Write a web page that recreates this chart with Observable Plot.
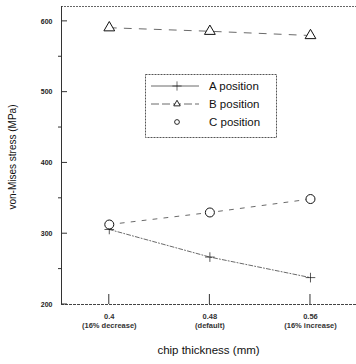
<!DOCTYPE html>
<html>
<head>
<meta charset="utf-8">
<script src="https://cdn.jsdelivr.net/npm/d3@7"></script>
<script src="https://cdn.jsdelivr.net/npm/@observablehq/plot@0.6"></script>
<style>
  html, body { margin: 0; padding: 0; background: #fff; }
  #wrap { position: relative; width: 356px; height: 364px; font-family: Arial, "Liberation Sans", sans-serif; }
  #legend { position: absolute; left: 145px; top: 74px; }
</style>
</head>
<body>
<div id="wrap"><div id="chart"></div><div id="legend"></div></div>
<script>
const thickness = [0.4, 0.48, 0.56];
const tickLabels = ["0.4\n(16% decrease)", "0.48\n(default)", "0.56\n(16% increase)"];
const seriesNames = ["A position", "B position", "C position"];
const stressA = [306, 267, 238];
const stressB = [591, 586, 580];
const stressC = [313, 330, 349];
const yMajor = [200, 300, 400, 500, 600];
const yMinor = [250, 350, 450, 550];

const symbols = ["plus", "triangle", "circle"];
const dashes = ["4,2,1,2", "7,8", "4,7"];
const radii = [3.2, 4, 4.5];
const values = [stressA, stressB, stressC];

const rows = [];
values.forEach((vals, s) => vals.forEach((v, i) => rows.push({series: seriesNames[s], x: thickness[i], y: v, s})));

const font = "Arial, 'Liberation Sans', sans-serif";
const marks = [
  Plot.ruleY([621], {stroke: "#666", strokeWidth: 1, strokeDasharray: "2,1"}),
  Plot.ruleY([200], {stroke: "#444", strokeWidth: 1, strokeDasharray: "3,1"}),
  Plot.ruleX([0.362], {stroke: "#333", strokeWidth: 1}),
  Plot.axisY({ticks: yMajor, tickSize: 0, tickPadding: 9, fontSize: 7, fontWeight: "bold", fill: "#222", label: null}),
  Plot.axisX({ticks: thickness, tickSize: 0, tickPadding: 8, tickFormat: (d, i) => tickLabels[i], fontSize: 7.5, fontWeight: "bold", fill: "#333", label: null, lineHeight: 1.2})
];
seriesNames.forEach((name, s) => {
  const data = rows.filter(r => r.s === s);
  marks.push(Plot.line(data, {x: "x", y: "y", stroke: "#444", strokeWidth: 0.8, strokeDasharray: dashes[s]}));
  marks.push(Plot.dot(data, {x: "x", y: "y", symbol: () => symbols[s], r: radii[s], stroke: "#111", fill: s === 0 ? "none" : "white", strokeWidth: s === 0 ? 0.7 : 1}));
});

const chart = Plot.plot({
  width: 356,
  height: 364,
  marginLeft: 61,
  marginRight: 0,
  marginTop: 6,
  marginBottom: 60,
  style: {fontFamily: font, background: "white"},
  x: {domain: [0.362, 0.5966], axis: null},
  y: {domain: [200, 621], axis: null},
  marks
});
document.getElementById("chart").appendChild(chart);

// custom ticks: major inside, minor outside (positions from the plot's scales)
const svg = d3.select(chart);
const xs = chart.scale("x"), ys = chart.scale("y");
const gT = svg.append("g").attr("stroke", "#333").attr("stroke-width", 1);
yMajor.forEach(v => gT.append("line").attr("x1", xs.apply(0.362)).attr("x2", xs.apply(0.362) + 6).attr("y1", ys.apply(v)).attr("y2", ys.apply(v)));
yMinor.forEach(v => gT.append("line").attr("x1", xs.apply(0.362) - 3).attr("x2", xs.apply(0.362)).attr("y1", ys.apply(v)).attr("y2", ys.apply(v)));
thickness.forEach(v => gT.append("line").attr("x1", xs.apply(v)).attr("x2", xs.apply(v)).attr("y1", ys.apply(200)).attr("y2", ys.apply(200) - 10));

// axis titles
svg.append("text").attr("transform", `translate(16,${(ys.apply(200) + ys.apply(621)) / 2 + 2}) rotate(-90)`)
  .attr("text-anchor", "middle").attr("font-size", 10).attr("fill", "#111").text("von-Mises stress (MPa)");
svg.append("text").attr("x", (xs.apply(0.362) + 356) / 2).attr("y", 354)
  .attr("text-anchor", "middle").attr("font-size", 11.5).attr("fill", "#111").text("chip thickness (mm)");

// legend
const lg = d3.select("#legend").append("svg").attr("width", 133).attr("height", 65)
  .style("font-family", font);
lg.append("rect").attr("x", 0.5).attr("y", 0.5).attr("width", 131).attr("height", 63)
  .attr("fill", "white").attr("stroke", "#555").attr("stroke-dasharray", "2,1");
const symGen = [d3.symbolPlus, d3.symbolTriangle, d3.symbolCircle];
seriesNames.forEach((name, i) => {
  const y = 12 + i * 18;
  if (i < 2) lg.append("line").attr("x1", 6).attr("x2", 54).attr("y1", y).attr("y2", y)
    .attr("stroke", "#444").attr("stroke-width", 0.8).attr("stroke-dasharray", i === 0 ? null : "8,3");
  lg.append("path").attr("transform", `translate(32,${y})`)
    .attr("d", d3.symbol(symGen[i], i === 0 ? 30 : 18)())
    .attr("fill", i === 0 ? "none" : "white").attr("stroke", "#111").attr("stroke-width", i === 0 ? 0.6 : 0.9);
  lg.append("text").attr("x", 64).attr("y", y + 4).attr("font-size", 11.5).attr("fill", "#111").text(name);
});
</script>
</body>
</html>
